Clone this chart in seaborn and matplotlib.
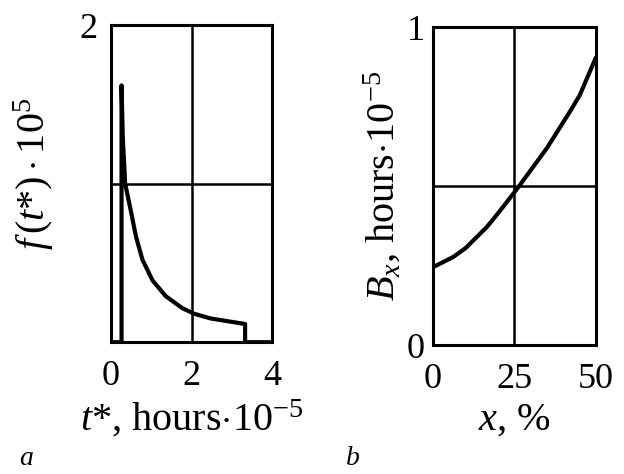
import numpy as np
import pandas as pd
import seaborn as sns
import matplotlib.pyplot as plt

# panel a: density f(t*)
t_star = [0, 0.26, 0.26, 0.29, 0.35, 0.49, 0.62, 0.78, 1.03, 1.36, 1.77, 2.06, 2.47, 2.96, 3.33, 3.33, 4.0]
f_t = [0, 0, 1.62, 1.3, 1.0, 0.83, 0.665, 0.52, 0.39, 0.29, 0.215, 0.18, 0.15, 0.13, 0.115, 0, 0]

# panel b: B_x vs x
x_pct = [0, 6.2, 10, 16.5, 20, 25.7, 30, 35, 42.2, 45, 50]
b_x = [0.245, 0.277, 0.305, 0.371, 0.415, 0.49, 0.55, 0.62, 0.737, 0.785, 0.904]

df_a = pd.DataFrame({"t": t_star, "f": f_t})
df_b = pd.DataFrame({"x": x_pct, "B": b_x})

sns.set_theme(style="white")
plt.rcParams['font.family'] = ['Liberation Serif', 'DejaVu Serif']
plt.rcParams['mathtext.fontset'] = 'custom'
plt.rcParams['mathtext.rm'] = 'Liberation Serif'
plt.rcParams['mathtext.it'] = 'Liberation Serif:italic'
plt.rcParams['text.color'] = 'black'
plt.rcParams['axes.labelcolor'] = 'black'
plt.rcParams['xtick.color'] = 'black'
plt.rcParams['ytick.color'] = 'black'

fs = 26
lfs = 29
fig = plt.figure(figsize=(6.24, 4.74), dpi=100)
ax1 = fig.add_axes([0.178, 0.278, 0.258, 0.669])
ax2 = fig.add_axes([0.694, 0.272, 0.261, 0.671])

sns.lineplot(data=df_a, x="t", y="f", sort=False, estimator=None, color="black", linewidth=3, ax=ax1)
sns.lineplot(data=df_b, x="x", y="B", sort=False, estimator=None, color="black", linewidth=3, ax=ax2)

ax1.set_xlim(0, 4)
ax1.set_ylim(0, 2)
ax1.set_xticks([0, 2, 4])
ax1.set_yticks([1, 2])
ax1.set_yticklabels(["", "2"])
ax1.set_xlabel(r"$t$*, hours$\cdot$10$^{-5}$", fontsize=lfs, labelpad=4)
ax1.set_ylabel(r"$f\,(t$*$)\cdot$10$^{5}$", fontsize=lfs, labelpad=6)
ax1.yaxis.set_label_coords(-0.34, 0.53)

ax2.set_xlim(0, 50)
ax2.set_ylim(0, 1)
ax2.set_xticks([0, 25, 50])
ax2.set_yticks([0, 0.5, 1])
ax2.set_yticklabels(["0", "", "1"])
ax2.set_xlabel(r"$x$, %", fontsize=lfs, labelpad=4)
ax2.set_ylabel(r"$B_x$, hours$\cdot$10$^{-5}$", fontsize=lfs, labelpad=2)

for ax in (ax1, ax2):
    ax.grid(True, color="black", linewidth=1.8)
    ax.tick_params(length=0, labelsize=fs, pad=10)
    for s in ax.spines.values():
        s.set_color("black")
        s.set_linewidth(2.2)

ax1.tick_params(axis="x", pad=13)
ax2.tick_params(axis="x", pad=13)
ax2.tick_params(axis="y", pad=6)

fig.text(0.03, 0.02, "a", fontsize=20, style="italic")
fig.text(0.555, 0.02, "b", fontsize=20, style="italic")

fig.savefig("out.png", dpi=100)
